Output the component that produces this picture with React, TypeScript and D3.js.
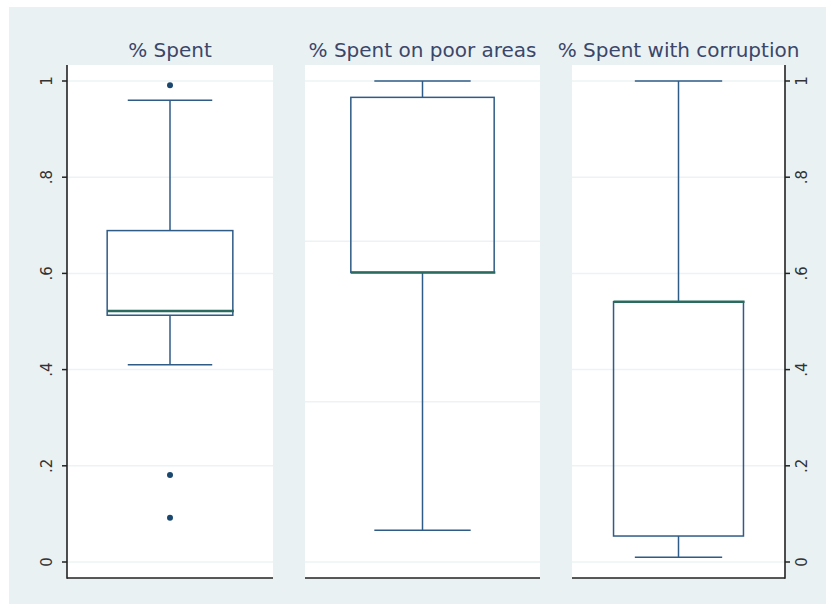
import React from "react";
import * as d3 from "d3";

const categories = ["% Spent", "% Spent on poor areas", "% Spent with corruption"];
const lowerWhisker = [0.41, 0.066, 0.01];
const q1 = [0.513, 0.602, 0.054];
const median = [0.522, 0.602, 0.541];
const q3 = [0.689, 0.966, 0.541];
const upperWhisker = [0.96, 1.0, 1.0];
const outliers: number[][] = [[0.991, 0.181, 0.092], [], []];
const yTicks = [0, 0.2, 0.4, 0.6, 0.8, 1];
const yTickLabels = ["0", ".2", ".4", ".6", ".8", "1"];
const middleGrid = [0, 1 / 3, 2 / 3, 1];

const W = 826;
const H = 606;
const panels = [
  { x0: 67, x1: 273, axis: "left" },
  { x0: 305, x1: 540, axis: "none" },
  { x0: 572, x1: 785, axis: "right" },
];
const plotTop = 65;
const plotBottom = 578;

const boxColor = "#2f5b87";
const medColor = "#2b6a5e";
const gridColor = "#edf3f5";
const bg = "#eaf1f3";
const titleColor = "#3a476a";

export default function App() {
  const y = d3.scaleLinear().domain([0, 1]).range([562, 81]);
  return (
    <svg width={W} height={H} style={{ position: "absolute", left: 0, top: 0 }}>
      <rect x={0} y={0} width={W} height={H} fill="#ffffff" />
      <rect x={9} y={7} width={W - 9} height={597} fill={bg} />
      {panels.map((p, i) => {
        const x = d3.scaleLinear().domain([0, 1]).range([p.x0, p.x1]);
        const grid = p.axis === "none" ? middleGrid : yTicks;
        const cx = x(0.5);
        return (
          <g key={i}>
            <rect x={p.x0} y={plotTop} width={p.x1 - p.x0} height={plotBottom - plotTop} fill="#ffffff" />
            {grid.map((t, j) => (
              <line key={j} x1={p.x0} x2={p.x1} y1={y(t)} y2={y(t)} stroke={gridColor} strokeWidth={1.5} />
            ))}
            <text
              x={cx}
              y={57}
              textAnchor="middle"
              fontFamily="DejaVu Sans"
              fontSize={20}
              fill={titleColor}
            >
              {categories[i]}
            </text>
            {/* whiskers */}
            <line x1={cx} x2={cx} y1={y(upperWhisker[i])} y2={y(q3[i])} stroke={boxColor} strokeWidth={1.5} />
            <line x1={cx} x2={cx} y1={y(q1[i])} y2={y(lowerWhisker[i])} stroke={boxColor} strokeWidth={1.5} />
            <line x1={x(0.295)} x2={x(0.705)} y1={y(upperWhisker[i])} y2={y(upperWhisker[i])} stroke={boxColor} strokeWidth={1.5} />
            <line x1={x(0.295)} x2={x(0.705)} y1={y(lowerWhisker[i])} y2={y(lowerWhisker[i])} stroke={boxColor} strokeWidth={1.5} />
            {/* box */}
            <rect
              x={x(0.195)}
              y={y(q3[i])}
              width={x(0.805) - x(0.195)}
              height={Math.max(0, y(q1[i]) - y(q3[i]))}
              fill="none"
              stroke={boxColor}
              strokeWidth={1.5}
            />
            <line x1={x(0.195)} x2={x(0.81)} y1={y(median[i])} y2={y(median[i])} stroke={medColor} strokeWidth={2.5} />
            {outliers[i].map((v, j) => (
              <circle key={j} cx={cx} cy={y(v)} r={3} fill="#1a476f" />
            ))}
            {/* bottom axis */}
            <line x1={p.x0} x2={p.x1} y1={plotBottom} y2={plotBottom} stroke="#222" strokeWidth={1.6} />
            {p.axis !== "none" && (
              <g>
                <line
                  x1={p.axis === "left" ? p.x0 : p.x1}
                  x2={p.axis === "left" ? p.x0 : p.x1}
                  y1={plotTop}
                  y2={plotBottom + 0.8}
                  stroke="#222"
                  strokeWidth={1.6}
                />
                {yTicks.map((t, j) => {
                  const ax = p.axis === "left" ? p.x0 : p.x1;
                  const dir = p.axis === "left" ? -1 : 1;
                  const lx = p.axis === "left" ? 47 : 802;
                  return (
                    <g key={j}>
                      <line x1={ax} x2={ax + dir * 5} y1={y(t)} y2={y(t)} stroke="#222" strokeWidth={1.5} />
                      <text
                        transform={`translate(${lx},${y(t)}) rotate(-90)`}
                        textAnchor="middle"
                        dominantBaseline="central"
                        fontFamily="DejaVu Sans"
                        fontSize={15}
                        fill="#333"
                      >
                        {yTickLabels[j]}
                      </text>
                    </g>
                  );
                })}
              </g>
            )}
          </g>
        );
      })}
    </svg>
  );
}
